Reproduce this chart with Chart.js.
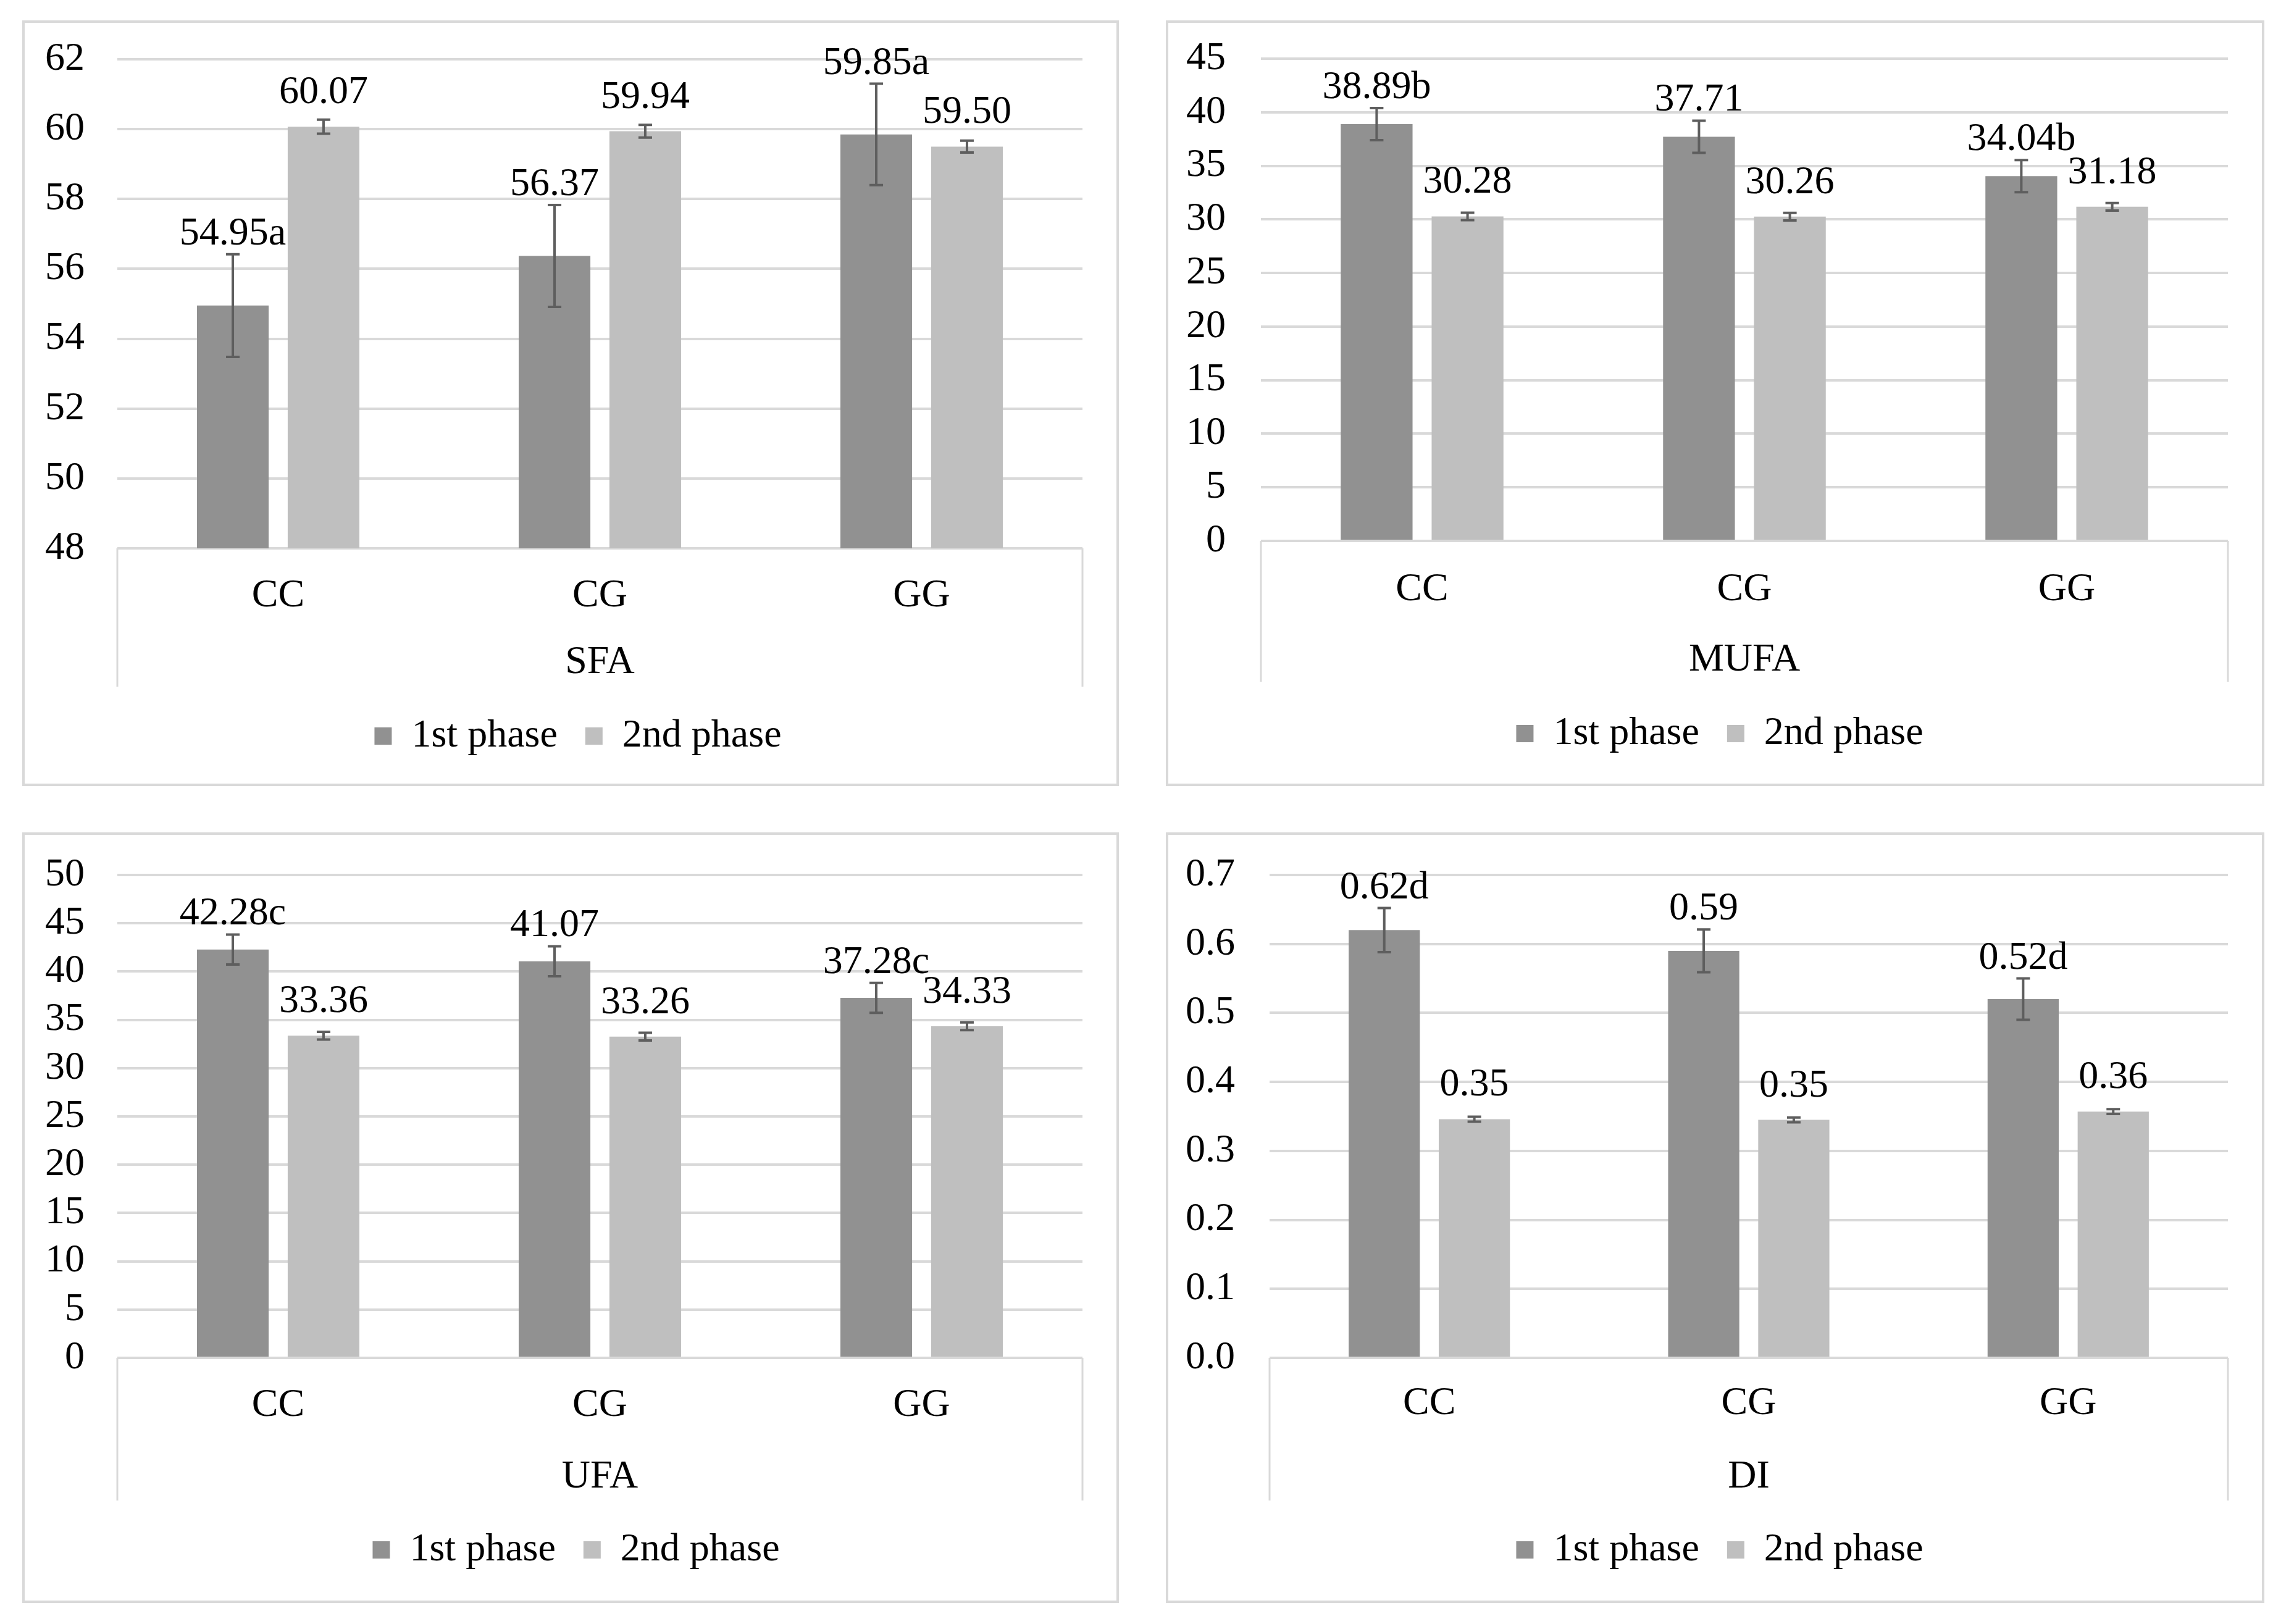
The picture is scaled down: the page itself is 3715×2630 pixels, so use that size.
<!DOCTYPE html>
<html><head><meta charset="utf-8">
<script src="https://cdn.jsdelivr.net/npm/chart.js@4.4.1/dist/chart.umd.min.js"></script>
<style>
html,body{margin:0;padding:0;background:#fff;width:3715px;height:2630px;overflow:hidden;}
.panel{position:absolute;background:#fff;}
.panel canvas{position:absolute;left:0;top:0;}
.frame{position:absolute;left:0;top:0;right:0;bottom:0;border:4px solid #d9d9d9;box-sizing:border-box;pointer-events:none;}
</style></head><body>
<div id="p0" class="panel"><canvas id="c0"></canvas><div class="frame"></div></div>
<div id="p1" class="panel"><canvas id="c1"></canvas><div class="frame"></div></div>
<div id="p2" class="panel"><canvas id="c2"></canvas><div class="frame"></div></div>
<div id="p3" class="panel"><canvas id="c3"></canvas><div class="frame"></div></div>
<script>
// ---------------- DATA ----------------
const categories = ['CC', 'CG', 'GG'];
const seriesNames = ['1st phase', '2nd phase'];
const groupTitles = ['SFA', 'MUFA', 'UFA', 'DI'];

const sfaPhase1 = [54.95, 56.37, 59.85];
const sfaPhase2 = [60.07, 59.94, 59.50];
const sfaErr1 = [1.47, 1.46, 1.45];
const sfaErr2 = [0.20, 0.18, 0.17];
const sfaLabels1 = ['54.95a', '56.37', '59.85a'];
const sfaLabels2 = ['60.07', '59.94', '59.50'];
const sfaTicks = [48, 50, 52, 54, 56, 58, 60, 62];

const mufaPhase1 = [38.89, 37.71, 34.04];
const mufaPhase2 = [30.28, 30.26, 31.18];
const mufaErr1 = [1.5, 1.5, 1.5];
const mufaErr2 = [0.35, 0.35, 0.35];
const mufaLabels1 = ['38.89b', '37.71', '34.04b'];
const mufaLabels2 = ['30.28', '30.26', '31.18'];
const mufaTicks = [0, 5, 10, 15, 20, 25, 30, 35, 40, 45];

const ufaPhase1 = [42.28, 41.07, 37.28];
const ufaPhase2 = [33.36, 33.26, 34.33];
const ufaErr1 = [1.55, 1.55, 1.55];
const ufaErr2 = [0.4, 0.4, 0.4];
const ufaLabels1 = ['42.28c', '41.07', '37.28c'];
const ufaLabels2 = ['33.36', '33.26', '34.33'];
const ufaTicks = [0, 5, 10, 15, 20, 25, 30, 35, 40, 45, 50];

const diPhase1 = [0.62, 0.59, 0.52];
const diPhase2 = [0.346, 0.345, 0.357];
const diErr1 = [0.032, 0.031, 0.030];
const diErr2 = [0.0035, 0.0035, 0.0035];
const diLabels1 = ['0.62d', '0.59', '0.52d'];
const diLabels2 = ['0.35', '0.35', '0.36'];
const diTicks = [0, 0.1, 0.2, 0.3, 0.4, 0.5, 0.6, 0.7];
const tickDecimals = [0, 0, 0, 1];

// ---------------- LAYOUT / STYLE ----------------
const FONT_SIZE = 64;
const LEGEND_PAD = 45;
const COLOR1 = '#919191';
const COLOR2 = '#bfbfbf';
const GRID = '#d9d9d9';

const layouts = [
  {x: 36,   y: 33,   w: 1776, h: 1240, plotL: 154, plotR: 1717, plotT: 63, plotB: 855, tickPad: 53, catOff: 69, titleOff: 185, boxOff: 224, legendC: 1159, legendX: 900},
  {x: 1888, y: 33,   w: 1779, h: 1240, plotL: 154, plotR: 1720, plotT: 62, plotB: 843, tickPad: 57, catOff: 71, titleOff: 193, boxOff: 228, legendC: 1155, legendX: 897},
  {x: 36,   y: 1348, w: 1776, h: 1248, plotL: 154, plotR: 1717, plotT: 69, plotB: 851, tickPad: 53, catOff: 69, titleOff: 193, boxOff: 231, legendC: 1162, legendX: 897},
  {x: 1888, y: 1348, w: 1779, h: 1248, plotL: 168, plotR: 1720, plotT: 69, plotB: 851, tickPad: 56, catOff: 66, titleOff: 193, boxOff: 231, legendC: 1162, legendX: 897}
];

const panelData = [
  {v1: sfaPhase1, v2: sfaPhase2, e1: sfaErr1, e2: sfaErr2, l1: sfaLabels1, l2: sfaLabels2, ticks: sfaTicks},
  {v1: mufaPhase1, v2: mufaPhase2, e1: mufaErr1, e2: mufaErr2, l1: mufaLabels1, l2: mufaLabels2, ticks: mufaTicks},
  {v1: ufaPhase1, v2: ufaPhase2, e1: ufaErr1, e2: ufaErr2, l1: ufaLabels1, l2: ufaLabels2, ticks: ufaTicks},
  {v1: diPhase1, v2: diPhase2, e1: diErr1, e2: diErr2, l1: diLabels1, l2: diLabels2, ticks: diTicks}
];

const FONT_FAMILY = "'Liberation Serif', 'Times New Roman', serif";
Chart.defaults.font.family = FONT_FAMILY;
Chart.defaults.color = '#000';

const categoryBoxPlugin = {
  id: 'categoryBox',
  afterDraw(chart, args, opts) {
    const ctx = chart.ctx;
    const {left, right, bottom} = chart.chartArea;
    ctx.save();
    ctx.strokeStyle = GRID;
    ctx.lineWidth = 3;
    ctx.beginPath();
    ctx.moveTo(left, bottom); ctx.lineTo(left, bottom + opts.depth);
    ctx.moveTo(right, bottom); ctx.lineTo(right, bottom + opts.depth);
    ctx.stroke();
    ctx.restore();
  }
};

const legendShiftPlugin = {
  id: 'legendShift',
  afterLayout(chart, args, opts) {
    const lg = chart.legend;
    if (lg) {
      const shift = opts.center - (lg.left + lg.right) / 2;
      lg.left += shift; lg.right += shift;
    }
  }
};

const errorBarPlugin = {
  id: 'errorBars',
  afterDatasetsDraw(chart) {
    const ctx = chart.ctx;
    const ys = chart.scales.y;
    chart.data.datasets.forEach((ds, di) => {
      const meta = chart.getDatasetMeta(di);
      meta.data.forEach((bar, i) => {
        const v = ds.data[i], e = ds.errors[i];
        const top = ys.getPixelForValue(v + e);
        const bot = ys.getPixelForValue(v - e);
        ctx.save();
        ctx.strokeStyle = '#5e5e5e';
        ctx.lineWidth = 4;
        ctx.beginPath();
        ctx.moveTo(bar.x, top); ctx.lineTo(bar.x, bot);
        ctx.moveTo(bar.x - 11, top); ctx.lineTo(bar.x + 11, top);
        ctx.moveTo(bar.x - 11, bot); ctx.lineTo(bar.x + 11, bot);
        ctx.stroke();
        ctx.restore();
      });
    });
  }
};

const valueLabelPlugin = {
  id: 'valueLabels',
  afterDatasetsDraw(chart) {
    const ctx = chart.ctx;
    const ys = chart.scales.y;
    ctx.save();
    ctx.font = FONT_SIZE + 'px ' + FONT_FAMILY;
    ctx.fillStyle = '#000';
    ctx.textAlign = 'center';
    ctx.textBaseline = 'alphabetic';
    chart.data.datasets.forEach((ds, di) => {
      const meta = chart.getDatasetMeta(di);
      meta.data.forEach((bar, i) => {
        const errTop = ys.getPixelForValue(ds.data[i] + ds.errors[i]);
        const base = Math.min(bar.y - 38, errTop - 16);
        ctx.fillText(ds.valueLabels[i], bar.x, base);
      });
    });
    ctx.restore();
  }
};

function makeChart(idx) {
  const L = layouts[idx];
  const d = panelData[idx];
  const div = document.getElementById('p' + idx);
  div.style.left = L.x + 'px'; div.style.top = L.y + 'px';
  div.style.width = L.w + 'px'; div.style.height = L.h + 'px';
  const cv = document.getElementById('c' + idx);
  cv.width = L.w; cv.height = L.h;
  cv.style.width = L.w + 'px'; cv.style.height = L.h + 'px';

  const lineH = FONT_SIZE * 1.2;
  const legendH = FONT_SIZE + LEGEND_PAD + 10;
  const padB = L.h - L.legendC - 42;
  const legendTop = L.h - padB - legendH;
  const xh = legendTop - L.plotB;
  const titlePadB = Math.max(0, xh - L.titleOff - lineH / 2);
  const dec = tickDecimals[idx];

  new Chart(cv, {
    type: 'bar',
    data: {
      labels: categories,
      datasets: [
        {label: seriesNames[0], data: d.v1, errors: d.e1, valueLabels: d.l1, backgroundColor: COLOR1, borderWidth: 0, categoryPercentage: 0.564, barPercentage: 0.79},
        {label: seriesNames[1], data: d.v2, errors: d.e2, valueLabels: d.l2, backgroundColor: COLOR2, borderWidth: 0, categoryPercentage: 0.564, barPercentage: 0.79}
      ]
    },
    options: {
      responsive: false,
      animation: false,
      devicePixelRatio: 1,
      layout: {padding: {left: 0, right: L.w - L.plotR, top: L.plotT, bottom: padB}},
      scales: {
        x: {
          grid: {display: false},
          border: {display: false},
          ticks: {color: '#000', font: {size: FONT_SIZE}, padding: L.catOff - lineH / 2, maxRotation: 0, autoSkip: false},
          title: {display: true, text: groupTitles[idx], color: '#000', font: {size: FONT_SIZE}, padding: {top: 0, bottom: titlePadB}},
          afterFit(s) { s.height = xh; }
        },
        y: {
          min: d.ticks[0],
          max: d.ticks[d.ticks.length - 1],
          afterBuildTicks(s) { s.ticks = d.ticks.map(v => ({value: v})); },
          grid: {color: GRID, lineWidth: 4, drawTicks: true, tickLength: L.tickPad, tickColor: 'rgba(0,0,0,0)'},
          border: {display: false},
          ticks: {color: '#000', font: {size: FONT_SIZE}, padding: 0, autoSkip: false, callback: (v) => Number(v).toFixed(dec)},
          afterFit(s) { s.width = L.plotL; }
        }
      },
      plugins: {
        legend: {
          position: 'bottom',
          labels: {boxWidth: 28, boxHeight: 28, padding: LEGEND_PAD, color: '#000', font: {size: FONT_SIZE}}
        },
        tooltip: {enabled: false},
        categoryBox: {depth: L.boxOff},
        legendShift: {center: L.legendX}
      }
    },
    plugins: [categoryBoxPlugin, legendShiftPlugin, errorBarPlugin, valueLabelPlugin]
  });
}

for (let i = 0; i < 4; i++) makeChart(i);
</script>
</body></html>
